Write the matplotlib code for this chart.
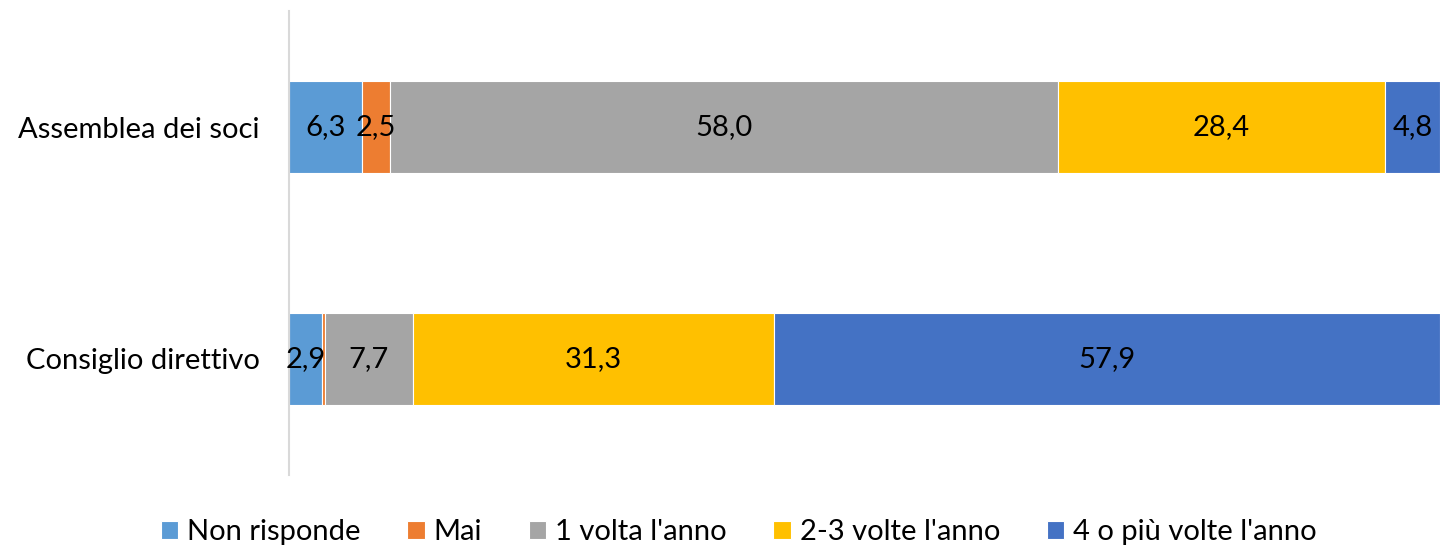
import matplotlib
matplotlib.use("Agg")
import matplotlib.pyplot as plt
import numpy as np

plt.rcParams['font.family'] = ['Lato', 'DejaVu Sans']

categories = ["Consiglio direttivo", "Assemblea dei soci"]
series_names = ["Non risponde", "Mai", "1 volta l'anno", "2-3 volte l'anno", "4 o più volte l'anno"]
non_risponde = [2.9, 6.3]
mai = [0.2, 2.5]
una_volta = [7.7, 58.0]
due_tre = [31.3, 28.4]
quattro_piu = [57.9, 4.8]
colors = ["#5B9BD5", "#ED7D31", "#A5A5A5", "#FFC000", "#4472C4"]

series = [non_risponde, mai, una_volta, due_tre, quattro_piu]

fig = plt.figure(figsize=(14.4, 5.46), dpi=100)
ax = fig.add_axes([289/1440, (546-475)/546, 1 - 289/1440, (475-11)/546])

y = np.arange(len(categories))
left = np.zeros(len(categories))
for name, vals, c in zip(series_names, series, colors):
    vals = np.array(vals)
    ax.barh(y, vals, left=left, height=0.4, color=c, label=name,
            edgecolor="white", linewidth=0.8)
    for i, v in enumerate(vals):
        if v >= 1:
            ax.text(left[i] + v / 2, y[i], f"{v:.1f}".replace(".", ","),
                    ha="center", va="center", fontsize=21, color="black")
    left += vals

ax.set_xlim(0, 100)
ax.set_ylim(-0.5, 1.5)
ax.set_yticks(y)
ax.set_yticklabels(categories, fontsize=21)
ax.tick_params(axis="y", length=0, pad=21)
ax.set_xticks([])
for s in ["top", "right", "bottom"]:
    ax.spines[s].set_visible(False)
ax.spines["left"].set_color("#D9D9D9")
ax.spines["left"].set_linewidth(1.5)

fig.legend(loc="lower center", bbox_to_anchor=(0.513, -0.047), ncol=5, frameon=False,
           fontsize=21, handlelength=0.6, handleheight=0.6, handletextpad=0.3,
           columnspacing=1.6)

fig.savefig("out.png", dpi=100)
